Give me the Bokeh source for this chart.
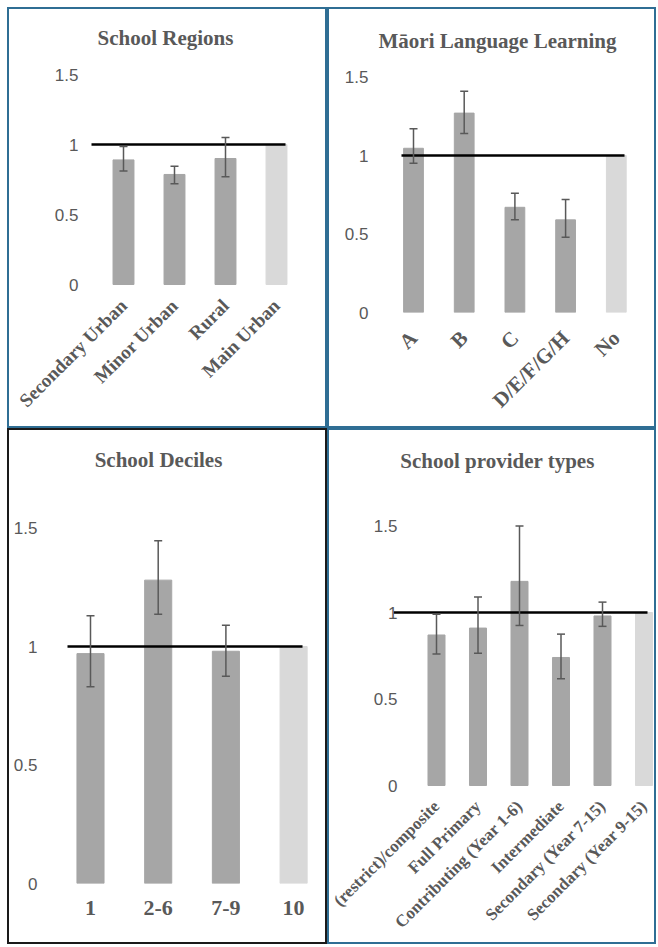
import math
from bokeh.plotting import figure
from bokeh.models import (ColumnDataSource, Whisker, TeeHead, FixedTicker, Range1d,
                          Label, Spacer)
from bokeh.layouts import column, row
from bokeh.embed import file_html
from bokeh.resources import INLINE

# ---------------- data ----------------
region_cats = ["Secondary Urban", "Minor Urban", "Rural", "Main Urban"]
region_vals = [0.89, 0.786, 0.90, 1.0]
region_lo = [0.81, 0.72, 0.77]
region_hi = [0.985, 0.845, 1.05]

maori_cats = ["A", "B", "C", "D/E/F/G/H", "No"]
maori_vals = [1.046, 1.27, 0.67, 0.59, 1.0]
maori_lo = [0.95, 1.14, 0.59, 0.48]
maori_hi = [1.17, 1.41, 0.76, 0.72]

decile_cats = ["1", "2-6", "7-9", "10"]
decile_vals = [0.97, 1.28, 0.98, 1.0]
decile_lo = [0.83, 1.136, 0.875]
decile_hi = [1.13, 1.446, 1.09]

provider_cats = ["(restrict)/composite", "Full Primary", "Contributing (Year 1-6)",
                 "Intermediate", "Secondary (Year 7-15)", "Secondary (Year 9-15)"]
provider_vals = [0.87, 0.91, 1.18, 0.74, 0.98, 1.0]
provider_lo = [0.76, 0.765, 0.925, 0.617, 0.92]
provider_hi = [0.99, 1.09, 1.50, 0.875, 1.06]

y_ticks = [0, 0.5, 1, 1.5]
y_tick_labels = {0: "0", 0.5: "0.5", 1: "1", 1.5: "1.5"}

TEXT = "#595959"
BAR = "#a6a6a6"
REF = "#d9d9d9"
BLUE = "#2f6e94"
BW = 2    # css border width
PAD = 7   # outer white margin of the picture


def panel(title, cats, vals, lo, hi, ex, ey, W, H, x0, sp, fl, fr, y0, fb, ppu,
          lx0, lx1, bw, ystand, yfont, xfont, xangle, xstand, border, tx, ty):
    """Geometry arguments are page pixel positions; (ex, ey) is the element origin,
    y0 the position of value 0, fb the (row-shared) bottom of the frame."""
    cx, cy = ex + BW, ey + BW          # canvas origin on the page
    n = len(cats)
    idx = list(range(n))
    ytop = (y0 - cy) / ppu             # frame reaches the top of the canvas
    ybot = -(fb - y0) / ppu
    p = figure(width=W, height=H, output_backend="svg", toolbar_location=None,
               x_range=Range1d(-(x0 - fl) / sp, (fr - x0) / sp),
               y_range=Range1d(ybot, ytop),
               min_border_left=int(round(fl - cx)),
               min_border_right=max(0, int(round(cx + W - fr))),
               min_border_top=0,
               min_border_bottom=int(round(cy + H - fb)))
    p.styles = {"border": f"{BW}px solid {border}", "overflow": "hidden"}
    p.outline_line_color = None
    p.background_fill_color = "white"
    p.border_fill_color = "white"
    p.xgrid.visible = False
    p.ygrid.visible = False

    colors = [BAR] * (n - 1) + [REF]
    src = ColumnDataSource(dict(x=idx, top=vals, color=colors))
    p.vbar(x="x", top="top", width=bw, bottom=0, color="color", source=src)

    p.segment(x0=[(lx0 - x0) / sp], y0=[1], x1=[(lx1 - x0) / sp], y1=[1],
              line_color="black", line_width=2.5)

    esrc = ColumnDataSource(dict(x=idx[:len(lo)], lo=lo, hi=hi))
    w = Whisker(base="x", lower="lo", upper="hi", source=esrc, dimension="height",
                line_color=TEXT, line_width=1.5, level="overlay",
                upper_head=TeeHead(size=8, line_color=TEXT, line_width=1.5),
                lower_head=TeeHead(size=8, line_color=TEXT, line_width=1.5))
    p.add_layout(w)

    p.add_layout(Label(x=(tx - x0) / sp, y=(y0 - ty) / ppu, text=title,
                       text_align="center", text_baseline="middle",
                       text_font="Liberation Serif", text_font_style="bold",
                       text_font_size="21px", text_color=TEXT))

    ya = p.yaxis[0]
    ya.ticker = FixedTicker(ticks=y_ticks)
    ya.major_label_overrides = y_tick_labels
    ya.axis_line_color = None
    ya.major_tick_line_color = None
    ya.minor_tick_line_color = None
    ya.major_tick_out = 0
    ya.major_tick_in = 0
    ya.major_label_standoff = ystand
    ya.major_label_text_font = "Liberation Sans"
    ya.major_label_text_font_size = yfont
    ya.major_label_text_color = TEXT

    xa = p.xaxis[0]
    xa.ticker = FixedTicker(ticks=idx)
    xa.major_label_overrides = {i: c for i, c in zip(idx, cats)}
    xa.axis_line_color = None
    xa.major_tick_line_color = None
    xa.minor_tick_line_color = None
    xa.major_tick_out = 0
    xa.major_tick_in = 0
    xa.major_label_standoff = int(round(xstand - (fb - y0)))
    xa.major_label_text_font = "Liberation Serif"
    xa.major_label_text_font_style = "bold"
    xa.major_label_text_font_size = xfont
    xa.major_label_text_color = TEXT
    if xangle:
        xa.major_label_orientation = xangle
    return p


FB_TOP = 312      # shared frame bottom of the upper row
FB_BOTTOM = 883   # shared frame bottom of the lower row

p1 = panel("School Regions", region_cats, region_vals, region_lo, region_hi,
           7, 7, 320, 421, 123, 51, 88, 325, 284, FB_TOP, 140, 91, 285, 0.41,
           10, "17px", "19px", math.pi / 4, 18, BLUE, 165, 37)
p2 = panel("Māori Language Learning", maori_cats, maori_vals, maori_lo, maori_hi,
           327, 7, 329, 421, 413, 50.7, 378, 654, 312, FB_TOP, 157, 401, 624, 0.39,
           10, "17px", "21px", math.pi / 4, 22, BLUE, 497, 40)
p3 = panel("School Deciles", decile_cats, decile_vals, decile_lo, decile_hi,
           7, 428, 320, 516, 90, 67.7, 44, 325, 883, FB_BOTTOM, 237, 67, 302, 0.40,
           7, "17px", "22px", None, 17, "#1a1a1a", 158, 459)
p4 = panel("School provider types", provider_cats, provider_vals, provider_lo, provider_hi,
           327, 428, 329, 516, 436, 41.5, 393, 654, 785, FB_BOTTOM, 173, 393, 647, 0.41,
           -4, "17px", "17px", math.pi / 4, 18, BLUE, 497, 460)

layout = column(Spacer(height=PAD),
                row(Spacer(width=PAD), p1, p2),
                row(Spacer(width=PAD), p3, p4))
open("out.html", "w").write(file_html(layout, INLINE))
